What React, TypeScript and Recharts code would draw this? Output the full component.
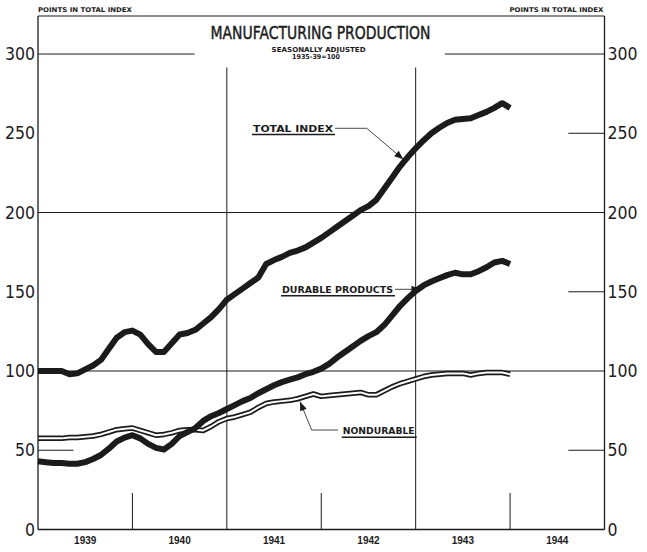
import React from "react"
import { LineChart, Line, XAxis, YAxis, ReferenceLine } from "recharts"

// Manufacturing production, seasonally adjusted, 1935-39 = 100
// monthly points, Jan 1939 .. Jan 1944 (index 0 = Jan 1939)
const years = [1939, 1940, 1941, 1942, 1943, 1944]
const yTicks = [0, 50, 100, 150, 200, 250, 300]

const totalIndex = [
  100, 100, 100, 100, 98, 98.5, 101, 103.5, 107, 114, 121, 124.5,
  125.5, 123, 117, 112, 112, 117.5, 123, 124, 126, 130, 134, 139,
  145, 148.5, 152, 155.5, 159, 167.5, 170, 172, 174.5, 176, 178, 181,
  184, 187.5, 191, 194.5, 198, 201.5, 204, 208, 215, 222, 229, 235,
  240.5, 245.5, 250, 253.5, 256.5, 258.5, 259, 259.5, 261.5, 263.5, 266, 269,
  266,
]

const durableProducts = [
  43, 42.5, 42, 42, 41.5, 41.5, 42.5, 44.5, 47, 51, 55.5, 58,
  59.5, 57.5, 54, 51.5, 50.5, 54, 59, 61.5, 64, 68.5, 71.5, 73.5,
  76, 78.5, 81, 83, 86, 88.5, 91, 93, 94.5, 96, 98, 99.5,
  101.5, 104.5, 108.5, 112, 115.5, 119, 122, 124.5, 129, 135, 141, 146,
  150.5, 154, 156.5, 158.5, 160.5, 162, 161, 161, 163, 165.5, 168.5, 169.5,
  167.5,
]

const nondurable = [
  57.5, 57.5, 57.5, 57.5, 58, 58, 58.5, 59, 60, 61.5, 63, 63.5,
  64, 62.5, 61, 59.5, 60, 61, 62.5, 63, 63, 62.5, 65, 68,
  70, 71, 72.5, 74, 77, 79.5, 80.5, 81, 81.5, 82.5, 84, 85.5,
  84, 84.5, 85, 85.5, 86, 86.5, 85, 85, 87.5, 90, 92, 93.5,
  95, 96.5, 97.5, 98, 98.5, 98.5, 98.5, 97.5, 98.5, 99, 99, 99,
  98,
]

const data = totalIndex.map((v, i) => ({
  month: i,
  total: v,
  durable: durableProducts[i],
  nondurable: nondurable[i],
}))

const W = 647
const H = 552
const LEFT = 38
const RIGHT = 604.5
const TOP = 16
const BOTTOM = 529.5
const Y_MAX = 324
const INK = "#1b1b1b"
const NARROW = "'Liberation Sans Narrow', 'DejaVu Sans Condensed', 'Liberation Sans', sans-serif"
const LETTERING = "'DejaVu Sans', 'Liberation Sans', sans-serif"

type Pt = [number, number]

function arrowHead(tail: Pt, tip: Pt, len = 9, half = 3.5) {
  const dx = tip[0] - tail[0]
  const dy = tip[1] - tail[1]
  const d = Math.hypot(dx, dy)
  const ux = dx / d
  const uy = dy / d
  const bx = tip[0] - ux * len
  const by = tip[1] - uy * len
  return `${tip[0]},${tip[1]} ${bx - uy * half},${by + ux * half} ${bx + uy * half},${by - ux * half}`
}

function Callout({ text, x, y, width, leader }: { text: string; x: number; y: number; width: number; leader: Pt[] }) {
  const tail = leader[leader.length - 2]
  const tip = leader[leader.length - 1]
  return (
    <g>
      <text x={x} y={y} fontSize={9.5} fontWeight="bold" fontFamily={LETTERING} fill={INK}
        textLength={width} lengthAdjust="spacingAndGlyphs">{text}</text>
      <line x1={x - 1} x2={x + width + 2} y1={y + 3} y2={y + 3} stroke={INK} strokeWidth={1.4} />
      <polyline points={leader.map((p) => p.join(",")).join(" ")} fill="none" stroke={INK} strokeWidth={0.8} />
      <polygon points={arrowHead(tail, tip)} fill={INK} />
    </g>
  )
}

export default function App() {
  const shortTicks = [12, 36, 60]
  const longLines = [24, 48]
  return (
    <div style={{ position: "absolute", left: 0, top: 0, width: W, height: H, background: "#fff" }}>
      <LineChart width={W} height={H} data={data} margin={{ top: TOP, right: 0, bottom: 0, left: 0 }}>
        <XAxis
          dataKey="month"
          type="number"
          domain={[0, 72]}
          ticks={[6, 18, 30, 42, 54, 66]}
          tickFormatter={(v: number) => String(years[Math.floor(v / 12)])}
          height={H - BOTTOM}
          tickLine={false}
          tickSize={0}
          tickMargin={7}
          axisLine={{ stroke: INK, strokeWidth: 1.5 }}
          tick={{ fontSize: 10, fontWeight: "bold", fill: INK, fontFamily: "'Liberation Sans', sans-serif" }}
        />
        <YAxis
          yAxisId="left"
          domain={[0, Y_MAX]}
          ticks={yTicks}
          width={LEFT}
          tickLine={false}
          tickSize={0}
          tickMargin={3}
          axisLine={{ stroke: INK, strokeWidth: 1.3 }}
          tick={{ fontSize: 17.5, fill: INK, fontFamily: NARROW }}
        />
        <YAxis
          yAxisId="right"
          orientation="right"
          domain={[0, Y_MAX]}
          ticks={yTicks}
          width={W - RIGHT}
          tickLine={false}
          tickSize={0}
          tickMargin={3}
          axisLine={{ stroke: INK, strokeWidth: 1.3 }}
          tick={{ fontSize: 17.5, fill: INK, fontFamily: NARROW }}
        />

        {/* frame and grid */}
        <ReferenceLine yAxisId="left" y={Y_MAX} stroke={INK} strokeWidth={1.2} />
        <ReferenceLine yAxisId="left" y={100} stroke={INK} strokeWidth={1} />
        <ReferenceLine yAxisId="left" y={200} stroke={INK} strokeWidth={1} />
        <ReferenceLine yAxisId="left" segment={[{ x: 0, y: 300 }, { x: 19.9, y: 300 }]} stroke={INK} strokeWidth={1} />
        <ReferenceLine yAxisId="left" segment={[{ x: 51.7, y: 300 }, { x: 72, y: 300 }]} stroke={INK} strokeWidth={1} />
        {[250, 150, 50].map((v) => (
          <ReferenceLine key={`r${v}`} yAxisId="left" segment={[{ x: 67.4, y: v }, { x: 72, y: v }]} stroke={INK} strokeWidth={1} />
        ))}
        <ReferenceLine yAxisId="left" segment={[{ x: 0, y: 50 }, { x: 4.5, y: 50 }]} stroke={INK} strokeWidth={1} />
        {longLines.map((m) => (
          <ReferenceLine key={`l${m}`} yAxisId="left" segment={[{ x: m, y: 0 }, { x: m, y: 291.5 }]} stroke={INK} strokeWidth={1} />
        ))}
        {shortTicks.map((m) => (
          <ReferenceLine key={`s${m}`} yAxisId="left" segment={[{ x: m, y: 0 }, { x: m, y: 23 }]} stroke={INK} strokeWidth={1} />
        ))}

        <Line yAxisId="left" dataKey="nondurable" name="nondurable-outline" type="linear" stroke={INK} strokeWidth={5.5}
          dot={false} activeDot={false} isAnimationActive={false} strokeLinejoin="round" />
        <Line yAxisId="left" dataKey="nondurable" name="nondurable-core" type="linear" stroke="#ffffff" strokeWidth={2}
          dot={false} activeDot={false} isAnimationActive={false} strokeLinejoin="round" />
        <Line yAxisId="left" dataKey="durable" name="durable" type="linear" stroke={INK} strokeWidth={6}
          dot={false} activeDot={false} isAnimationActive={false} strokeLinejoin="round" />
        <Line yAxisId="right" dataKey="total" name="total" type="linear" stroke={INK} strokeWidth={6}
          dot={false} activeDot={false} isAnimationActive={false} strokeLinejoin="round" />
      </LineChart>

      <svg width={W} height={H} style={{ position: "absolute", left: 0, top: 0, pointerEvents: "none" }}>
        <text x={LEFT} y={12.3} fontSize={6.5} fontWeight="bold" fontFamily={LETTERING} fill={INK}
          textLength={94} lengthAdjust="spacingAndGlyphs">POINTS IN TOTAL INDEX</text>
        <text x={RIGHT - 95} y={12.3} fontSize={6.5} fontWeight="bold" fontFamily={LETTERING} fill={INK}
          textLength={94} lengthAdjust="spacingAndGlyphs">POINTS IN TOTAL INDEX</text>
        <text x={210.5} y={39.3} fontSize={17} fontFamily={LETTERING} fill={INK} stroke={INK} strokeWidth={0.45}
          textLength={220} lengthAdjust="spacingAndGlyphs">MANUFACTURING PRODUCTION</text>
        <text x={271.6} y={51.7} fontSize={6.8} fontWeight="bold" fontFamily={LETTERING} fill={INK}
          textLength={94} lengthAdjust="spacingAndGlyphs">SEASONALLY ADJUSTED</text>
        <text x={292} y={59} fontSize={6.8} fontWeight="bold" fontFamily={LETTERING} fill={INK}
          textLength={48} lengthAdjust="spacingAndGlyphs">1935-39=100</text>

        <Callout text="TOTAL INDEX" x={253} y={131.5} width={80}
          leader={[[335, 128.3], [366.7, 128.3], [403.3, 159.3]]} />
        <Callout text="DURABLE PRODUCTS" x={282} y={292.7} width={111}
          leader={[[395, 289.3], [412, 289.3], [420.5, 289.3]]} />
        <Callout text="NONDURABLE" x={342.7} y={434.3} width={72}
          leader={[[338, 430], [311.7, 430], [300, 401.7]]} />
      </svg>
    </div>
  )
}
